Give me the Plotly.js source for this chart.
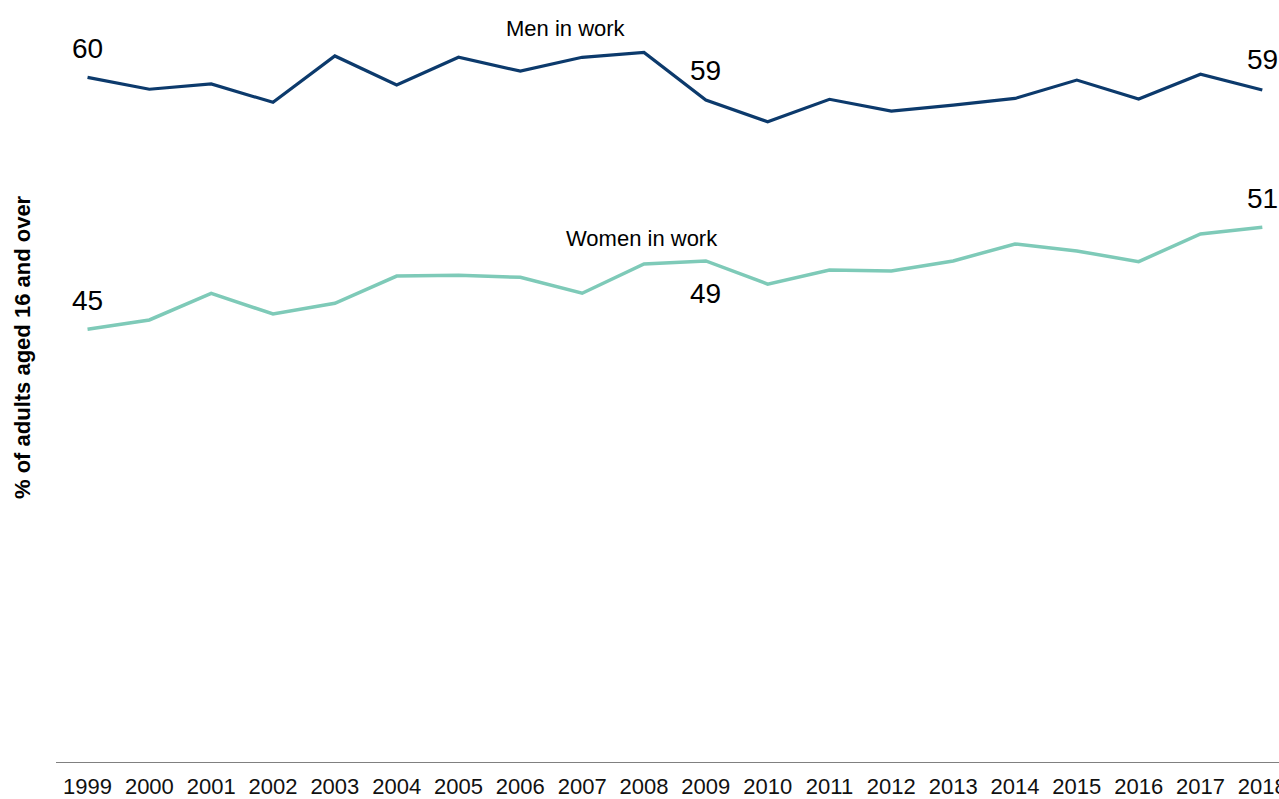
<!DOCTYPE html>
<html>
<head>
<meta charset="utf-8">
<script src="https://cdn.plot.ly/plotly-3.0.1.min.js"></script>
<style>html,body{margin:0;padding:0;background:#fff;}#chart{width:1279px;height:799px;}</style>
</head>
<body>
<div id="chart"></div>
<script>
const years = [1999,2000,2001,2002,2003,2004,2005,2006,2007,2008,2009,2010,2011,2012,2013,2014,2015,2016,2017,2018];
const menInWork = [59.95,59.25,59.56,58.48,61.21,59.50,61.13,60.32,61.13,61.42,58.62,57.34,58.66,57.97,58.32,58.71,59.79,58.68,60.13,59.21];
const womenInWork = [45.13,45.68,47.25,46.03,46.66,48.26,48.31,48.19,47.25,48.97,49.15,47.79,48.62,48.56,49.15,50.15,49.74,49.11,50.74,51.13];
const seriesNames = ["Men in work", "Women in work"];
const yTitle = "% of adults aged 16 and over";

const menColor = "#0c3a6c";
const womenColor = "#7ecab8";
const FAMILY = "Liberation Sans, Arial, sans-serif";

const traces = [
  {x: years, y: menInWork, name: seriesNames[0], type: "scatter", mode: "lines",
   line: {color: menColor, width: 3.2}},
  {x: years, y: womenInWork, name: seriesNames[1], type: "scatter", mode: "lines",
   line: {color: womenColor, width: 3.5}}
];

const numFont = {family: FAMILY, size: 28, color: "#000"};
const lblFont = {family: FAMILY, size: 22, color: "#000"};

function valueLabel(i, series, shift) {
  return {x: years[i], y: series[i], xref: "x", yref: "y", text: String(Math.round(series[i])),
          showarrow: false, font: numFont, xanchor: "center", yanchor: "middle", yshift: shift};
}
const last = years.length - 1;
const annotations = [
  valueLabel(0, menInWork, 29),
  valueLabel(10, menInWork, 29),
  valueLabel(last, menInWork, 30),
  valueLabel(0, womenInWork, 29),
  valueLabel(10, womenInWork, -33),
  valueLabel(last, womenInWork, 29),
  {x: 2006.74, y: 62.85, xref: "x", yref: "y", text: seriesNames[0], showarrow: false,
   font: lblFont, xanchor: "center", yanchor: "middle"},
  {x: 2007.97, y: 50.5, xref: "x", yref: "y", text: seriesNames[1], showarrow: false,
   font: lblFont, xanchor: "center", yanchor: "middle"},
  {x: -0.0278, y: 0.5446, xref: "paper", yref: "paper", text: "<b>" + yTitle + "</b>",
   textangle: -90, showarrow: false, xanchor: "center", yanchor: "middle",
   font: {family: FAMILY, size: 22, color: "#000"}}
];

const layout = {
  width: 1279, height: 799,
  margin: {l: 56, r: 0, t: 0, b: 37, pad: 0},
  paper_bgcolor: "#fff", plot_bgcolor: "#fff",
  showlegend: false,
  font: {family: FAMILY, color: "#000"},
  xaxis: {
    range: [1998.49, 2018.27], tickvals: years, ticktext: years.map(String),
    showgrid: false, zeroline: false, showline: true, linecolor: "#808080", linewidth: 1.3,
    ticks: "", tickfont: {size: 22, color: "#111"}, ticklabeloverflow: "allow",
    ticklabelstandoff: 4, fixedrange: true
  },
  yaxis: {
    range: [19.68, 64.5], showgrid: false, zeroline: false, showline: false,
    showticklabels: false, ticks: ""
  },
  annotations: annotations
};

Plotly.newPlot("chart", traces, layout, {staticPlot: true, displayModeBar: false});
</script>
</body>
</html>
